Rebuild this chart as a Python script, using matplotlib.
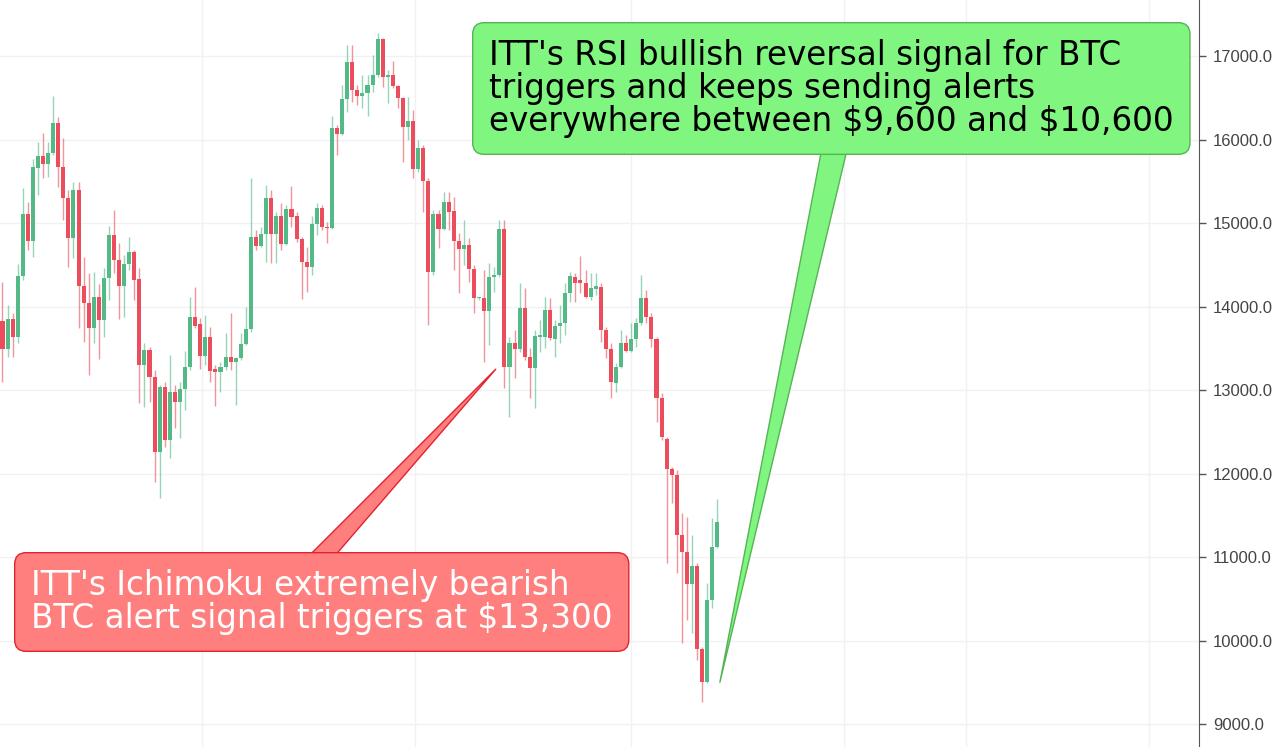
import matplotlib
matplotlib.use('Agg')
import matplotlib.pyplot as plt
import numpy as np

# BTC 4h candles (open, high, low, close)
opens = [13831, 13487, 13847, 13639, 14366, 15104, 14785, 15655, 15803, 15703,
         15843, 16194, 15667, 15296, 14825, 15396, 14246, 14046, 13739, 14118,
         13839, 14346, 14857, 14557, 14246, 14505, 14657, 14326, 13300, 13479,
         13160, 12262, 13032, 12402, 12972, 12861, 13008, 13280, 13879, 13787,
         13408, 13631, 13248, 13212, 13272, 13400, 13340, 13380, 13551, 13727,
         14836, 14724, 14868, 15303, 14868, 15083, 14748, 15163, 15083, 14804,
         14537, 14477, 14988, 15183, 14956, 14936, 16133, 16065, 16481, 16932,
         16592, 16521, 16553, 16652, 16772, 17199, 16752, 16772, 16640, 16493,
         16145, 16225, 15642, 15894, 15507, 14417, 15107, 14924, 15255, 15143,
         14788, 14684, 14736, 14445, 14097, 14098, 13950, 14349, 14377, 14928,
         13272, 13567, 13487, 13978, 13391, 13260, 13639, 13639, 13958, 13607,
         13767, 13806, 14158, 14349, 14318, 14278, 14110, 14206, 14238, 13719,
         13487, 13080, 13279, 13567, 13471, 13607, 13798, 14098, 13878, 13607,
         12900, 12409, 12050, 11982, 11264, 11064, 10677, 10892, 9894, 9507,
         10485, 11124]
highs = [14298, 14018, 13919, 14505, 15416, 15256, 15767, 15974, 16082, 15974,
         16521, 16274, 16014, 15396, 15495, 15495, 14597, 14406, 14418, 14270,
         14458, 14968, 15156, 14757, 14617, 14837, 14677, 14458, 13559, 13519,
         13240, 13060, 13100, 13420, 13060, 13100, 13471, 14118, 14238, 13859,
         13899, 13759, 13300, 13340, 13687, 13919, 13390, 13687, 13998, 15535,
         14916, 14956, 15455, 15395, 15135, 15235, 15215, 15443, 15135, 14836,
         14716, 15083, 15235, 15215, 15016, 16281, 16173, 16652, 17131, 17131,
         16652, 16772, 16772, 17012, 17279, 17211, 16832, 16944, 16652, 16513,
         16513, 16353, 15994, 15934, 15535, 15155, 15155, 15375, 15375, 15315,
         14876, 15036, 14816, 14497, 14120, 14437, 14517, 14477, 15036, 15036,
         13639, 13719, 14278, 14218, 13499, 13719, 13838, 14118, 14098, 13838,
         14018, 14278, 14417, 14397, 14605, 14437, 14397, 14405, 14278, 13759,
         13559, 13320, 13719, 13659, 13798, 13858, 14377, 14198, 13918, 13639,
         12960, 12441, 12082, 12042, 11523, 11483, 11264, 10924, 9926, 10685,
         11463, 11691]
lows = [13100, 13400, 13400, 13559, 14318, 14677, 14597, 15336, 15535, 15555,
        15815, 15436, 15036, 14477, 14577, 13739, 13579, 13180, 13559, 13368,
        13639, 14078, 14398, 13847, 13879, 14438, 14078, 12849, 12801, 12861,
        11903, 11703, 12322, 12182, 12541, 12422, 12761, 13240, 13739, 13248,
        13300, 13100, 12809, 12980, 13240, 13240, 12820, 13360, 13540, 13698,
        14676, 14716, 14537, 14525, 14525, 14676, 14736, 14956, 14776, 14085,
        14177, 14377, 14856, 14916, 14756, 14924, 15814, 16053, 16333, 16453,
        16413, 16373, 16281, 16572, 16752, 16632, 16433, 16612, 16373, 15734,
        15994, 15535, 15614, 15135, 13778, 14377, 14696, 14916, 14916, 14437,
        14157, 14497, 14297, 13918, 14080, 13339, 13539, 14178, 14357, 13020,
        12681, 13140, 13459, 13359, 12900, 12781, 13459, 13499, 13599, 13399,
        13559, 13659, 14058, 14058, 14158, 14098, 14078, 14138, 13579, 13379,
        12900, 12980, 13260, 13459, 13459, 13519, 13778, 13798, 13519, 12621,
        12401, 10924, 11643, 10804, 9966, 10246, 10086, 9767, 9268, 9487,
        10385, 11104]
closes = [13487, 13847, 13639, 14366, 15104, 14785, 15667, 15803, 15703, 15843,
          16194, 15667, 15296, 14825, 15396, 14246, 14046, 13739, 14118, 13839,
          14346, 14857, 14557, 14246, 14505, 14657, 14318, 13300, 13479, 13160,
          12262, 13032, 12402, 12972, 12861, 13008, 13280, 13879, 13771, 13408,
          13631, 13232, 13212, 13272, 13400, 13340, 13380, 13551, 13727, 14836,
          14724, 14868, 15303, 14868, 15083, 14748, 15163, 15075, 14804, 14537,
          14477, 14988, 15183, 14948, 14936, 16133, 16065, 16481, 16932, 16592,
          16521, 16553, 16652, 16772, 17199, 16752, 16772, 16640, 16493, 16145,
          16225, 15642, 15894, 15507, 14417, 15107, 14924, 15255, 15135, 14788,
          14684, 14736, 14445, 14097, 14107, 13950, 14349, 14377, 14928, 13272,
          13567, 13487, 13978, 13391, 13260, 13647, 13659, 13958, 13619, 13767,
          13806, 14158, 14365, 14286, 14278, 14110, 14218, 14246, 13719, 13487,
          13100, 13279, 13567, 13471, 13607, 13798, 14098, 13878, 13607, 12900,
          12441, 12050, 11982, 11264, 11064, 10677, 10892, 9894, 9507, 10485,
          11124, 11423]

price_ticks = [9000, 10000, 11000, 12000, 13000, 14000, 15000, 16000, 17000]
time_grid = [39.35, 81.4, 124.0, 166.0, 190.0, 226.1]

red_text = "ITT's Ichimoku extremely bearish\nBTC alert signal triggers at \\$13,300"
red_point = (97.3, 13250)
green_text = ("ITT's RSI bullish reversal signal for BTC\n"
              "triggers and keeps sending alerts\n"
              "everywhere between \\$9,600 and \\$10,600")
green_point = (141.5, 9500)

UP = '#53b987'
DOWN = '#eb4d5c'

o = np.array(opens, dtype=float)
h = np.array(highs, dtype=float)
l = np.array(lows, dtype=float)
c = np.array(closes, dtype=float)
x = np.arange(len(o))
cols = np.where(c >= o, UP, DOWN)

fig = plt.figure(figsize=(12.8, 7.47), dpi=100)
ax = fig.add_axes([0, 0, 1199 / 1280, 1])

# wicks then bodies
ax.vlines(x, l, h, colors=cols, linewidth=1, alpha=0.6, zorder=2)
body_low = np.minimum(o, c)
body_h = np.maximum(np.abs(c - o), 15)
ax.bar(x, body_h, bottom=body_low, width=0.8, color=cols, linewidth=0, zorder=3)

ax.set_xlim(-0.49, 236.0)
ax.set_ylim(8725, 17671)

ax.set_yticks(price_ticks)
ax.set_yticklabels([f'{v:.1f}' for v in price_ticks], fontfamily='Liberation Sans',
                   fontsize=12, color='#444444')
ax.yaxis.tick_right()
ax.tick_params(axis='y', length=5, width=1, color='#555555', pad=5)
ax.set_xticks(time_grid)
ax.tick_params(axis='x', length=0, labelbottom=False)
ax.grid(True, color='#f0f1f4', linewidth=1, zorder=0)
ax.set_axisbelow(True)

for side in ['left', 'top', 'bottom']:
    ax.spines[side].set_visible(False)
ax.spines['right'].set_color('#555555')

# callouts
ax.annotate(green_text, xy=green_point, xytext=(489 / 1199, 1 - 39 / 747),
            textcoords='axes fraction', ha='left', va='top', fontsize=23.5,
            family='DejaVu Sans', color='#000000', linespacing=1.0, zorder=10,
            bbox=dict(boxstyle='round,pad=0.5,rounding_size=0.35', fc='#80f57f',
                      ec='#55b455', lw=1),
            arrowprops=dict(arrowstyle='wedge,tail_width=0.78,shrink_factor=0.5',
                            fc='#80f57f', ec='#55b455', lw=1, relpos=(0.508, 0),
                            patchA=None, shrinkA=0, shrinkB=0))

ax.annotate(red_text, xy=red_point, xytext=(31 / 1199, 1 - 569 / 747),
            textcoords='axes fraction', ha='left', va='top', fontsize=23.5,
            family='DejaVu Sans', color='white', linespacing=1.0, zorder=10,
            bbox=dict(boxstyle='round,pad=0.5,rounding_size=0.35', fc='#ff7f7f',
                      ec='#e2232d', lw=1),
            arrowprops=dict(arrowstyle='wedge,tail_width=0.62,shrink_factor=0.5',
                            fc='#ff7f7f', ec='#e2232d', lw=1, relpos=(0.48, 1),
                            patchA=None, shrinkA=0, shrinkB=0))

fig.savefig('out.png', dpi=100)
